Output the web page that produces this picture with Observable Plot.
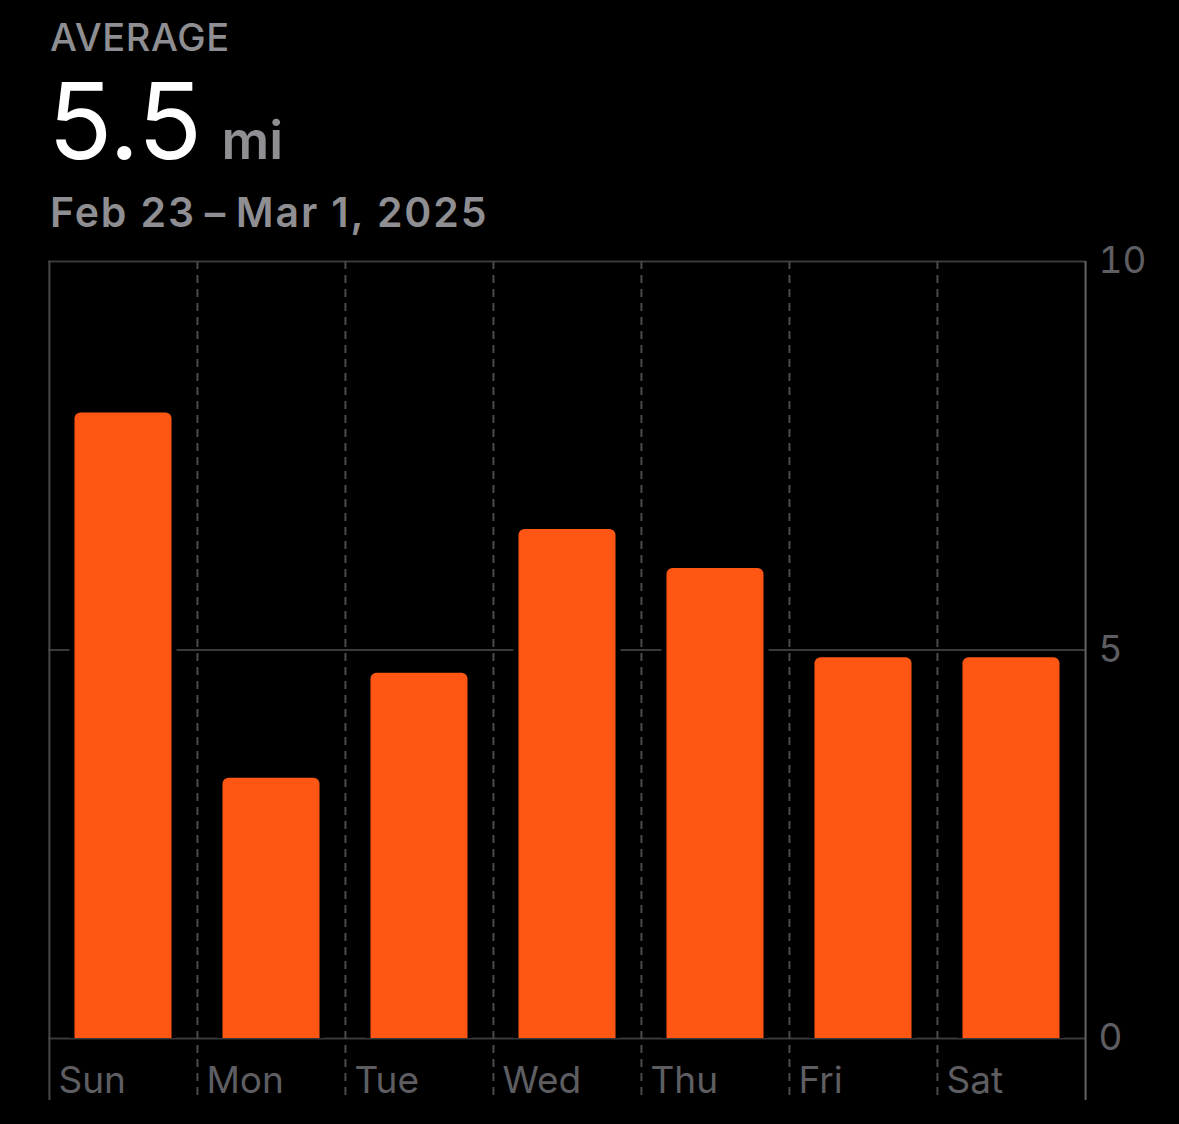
<!DOCTYPE html>
<html>
<head>
<meta charset="utf-8">
<script src="https://cdn.jsdelivr.net/npm/d3@7"></script>
<script src="https://cdn.jsdelivr.net/npm/@observablehq/plot@0.6"></script>
<style>
  html, body { margin: 0; padding: 0; background: #000; }
  body { width: 1179px; height: 1124px; overflow: hidden; font-family: Inter, "Open Sans", sans-serif; }
  #header { position: relative; height: 240px; }
  #header div { position: absolute; white-space: nowrap; }
  .label { left: 50px; top: 14px; font-size: 38px; font-weight: 500; color: #8e8e93; letter-spacing: 0.6px; }
  .big { left: 48px; top: 56px; font-size: 106px; font-weight: 400; color: #fff; letter-spacing: -0.5px; }
  .unit { font-size: 53px; font-weight: 600; color: #8e8e93; margin-left: 20px; letter-spacing: 0; }
  .date { left: 50px; top: 187px; font-size: 41px; font-weight: 600; color: #8e8e93; letter-spacing: 1.9px; }
</style>
</head>
<body>
<div id="header">
  <div class="label" id="lbl"></div>
  <div class="big" id="big"></div>
  <div class="date" id="date"></div>
</div>
<div id="chart"></div>
<script>
const days = ["Sun", "Mon", "Tue", "Wed", "Thu", "Fri", "Sat"];
const miles = [8.05, 3.35, 4.7, 6.55, 6.05, 4.9, 4.9];
const yTicks = [0, 5, 10];
const headerLabel = "AVERAGE";
const averageText = "5.5";
const unitText = "mi";
const dateRange = "Feb 23\u2009\u2013\u2009Mar 1, 2025";

document.getElementById("lbl").textContent = headerLabel;
document.getElementById("big").innerHTML = averageText + '<span class="unit">' + unitText + '</span>';
document.getElementById("date").textContent = dateRange;

const data = days.map((d, i) => ({day: d, mi: miles[i]}));

const W = 1179, H = 884, ML = 48, MR = 94, MT = 21, MB = 86;
const bw = (W - ML - MR) / days.length;
const inset = bw * 0.172;
const orange = "#FF5713";

const chart = Plot.plot({
  width: W, height: H,
  marginLeft: ML, marginRight: MR, marginTop: MT, marginBottom: MB,
  style: {background: "#000", color: "#5e5e62", fontFamily: "Inter, 'Open Sans', sans-serif", overflow: "visible"},
  x: {domain: days, padding: 0, axis: null},
  y: {domain: [0, 10], axis: null},
  marks: [
    Plot.ruleY(yTicks, {stroke: "#3a3a3c", strokeWidth: 2}),
    Plot.barY(data, {x: "day", y: "mi", fill: "#000", insetLeft: inset - 5, insetRight: inset - 5, insetTop: -5}),
    Plot.barY(data, {x: "day", y: "mi", fill: orange, insetLeft: inset, insetRight: inset, insetBottom: -8, rx: 6, ry: 6, clip: "frame"}),
    Plot.ruleX(days.slice(1), {x: d => d, dx: -bw / 2, stroke: "#4a4a4d", strokeWidth: 2, strokeDasharray: "8,6", insetBottom: -62}),
    Plot.ruleX([days[0]], {x: d => d, dx: -bw / 2, stroke: "#48484a", strokeWidth: 2, insetBottom: -62}),
    Plot.ruleX([days[days.length - 1]], {x: d => d, dx: bw / 2, stroke: "#636366", strokeWidth: 2, insetBottom: -62}),
    Plot.axisX({tickSize: 0, tickPadding: 28, textAnchor: "start", dx: -bw / 2 + 9, fontSize: 37, fill: "#5e5e62", label: null}),
    Plot.axisY(yTicks, {anchor: "right", tickSize: 0, tickPadding: 13, fontSize: 37, fill: "#5e5e62", label: null, tickFormat: d => String(d)})
  ]
});
document.getElementById("chart").appendChild(chart);
</script>
</body>
</html>
